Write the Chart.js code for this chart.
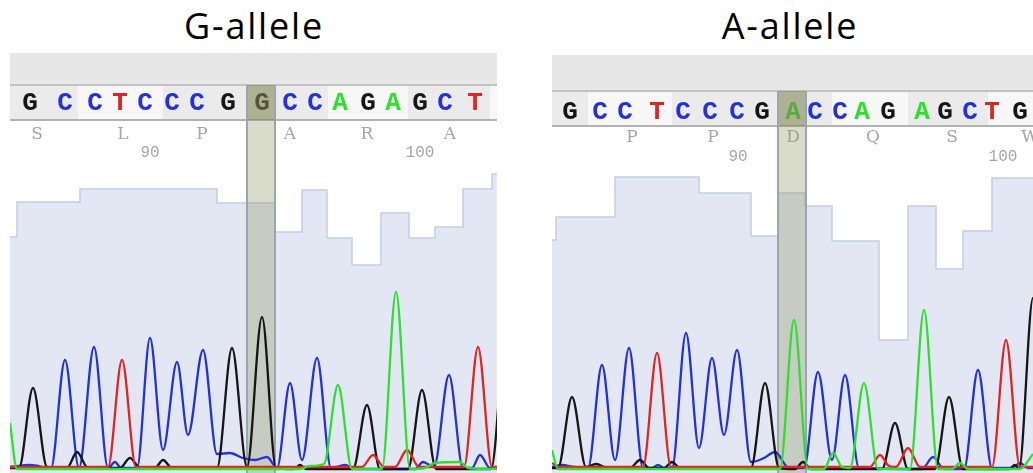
<!DOCTYPE html>
<html>
<head>
<meta charset="utf-8">
<script src="https://cdn.jsdelivr.net/npm/chart.js@4.4.1/dist/chart.umd.min.js"></script>
<style>
  body { margin: 0; background: #fff; width: 1033px; height: 473px; overflow: hidden; position: relative; }
  .title { position: absolute; top: 8px; width: 220px; line-height: 1; text-align: center;
           font-family: "Open Sans", sans-serif; font-size: 36px; letter-spacing: 1.8px; color: #000; }
  canvas { position: absolute; }
</style>
</head>
<body>
<div class="title" style="left:144px">G-allele</div>
<div class="title" style="left:680px">A-allele</div>
<canvas id="gChart" width="487" height="420" style="left:10px;top:53px"></canvas>
<canvas id="aChart" width="481" height="418" style="left:552px;top:55px"></canvas>
<script>
// x values are trace scan positions inside each panel, trace heights are signal intensity,
// quality is the per-base score drawn as the pale step histogram

// ---- G-allele ----
const gBases     = ['G','C','C','T','C','C','C','G','G','C','C','A','G','A','G','C','T'];
const gBasePos   = [20, 55, 85, 110, 135, 162, 187, 218, 252, 280, 305, 330, 358, 383, 410, 435, 465];
const gAmino     = ['S','L','P','A','R','A'];
const gAminoPos  = [27, 113, 192, 280, 357, 440];
const gNumLabels = ['90','100'];
const gNumPos    = [140, 410];
const gQualEdges = [0, 7, 70, 207, 265, 292, 317, 342, 371, 399, 425, 453, 482, 487];
const gQual      = [46.6, 53.6, 56.2, 53.4, 47.6, 56, 46.4, 41, 51.4, 46.4, 48.6, 56.2, 59.2];
const gCodonEdges = [0, 68, 153, 237, 265, 318, 398, 480, 487];
const gHighlight = [237, 265];

const gTraceG = [[0,2],[9,2],[23,82],[37,3],[57,2],[67,18],[78,2],[110,2],[120,12],[130,2],[145,2],[153,10],[162,2],
  [207,2],[222,122],[237,3],[252,153],[266,2],[284,1],[290,5],[296,1],[343,1],[357,65],[370,1],[398,1],[412,80],
  [426,1],[481,1],[495,160]];
const gTraceC = [[0,3],[20,5],[41,2],[55,110],[69,2],[84,123],[98,2],[105,8],[111,2],[127,2],[140,132],[153,20],
  [167,108],[178,35],[193,120],[207,16],[220,17],[233,12],[245,10],[257,13],[267,2],[280,87],[292,10],[307,112],
  [321,2],[335,5],[345,1],[405,1],[413,8],[424,3],[439,95],[453,2],[462,2],[470,15],[480,2],[487,2]];
const gTraceT = [[0,3],[98,3],[112,110],[126,3],[352,3],[363,15],[374,3],[385,3],[397,20],[409,3],[454,3],
  [468,123],[482,3],[487,3]];
const gTraceA = [[0,47],[7,1],[290,1],[300,4],[314,6],[328,85],[342,1],[372,1],[386,178],[400,1],[415,2],[425,7],
  [450,8],[458,2],[487,1]];

// ---- A-allele ----
const aBases     = ['G','C','C','T','C','C','C','G','A','C','C','A','G','A','G','C','T','G','G'];
const aBasePos   = [18, 48, 73, 105, 131, 158, 185, 210, 241, 263, 288, 310, 336, 370, 393, 418, 440, 468, 490];
const aAmino     = ['L','P','P','D','Q','S','W'];
const aAminoPos  = [-7, 80, 161, 241, 321, 400, 478];
const aNumLabels = ['90','100'];
const aNumPos    = [186, 451];
const aQualEdges = [0, 4, 63, 147, 199, 226, 253, 280, 327, 356, 384, 411, 440, 481];
const aQual      = [46, 50.6, 58.6, 55.4, 46.8, 55.4, 52.8, 45.8, 26, 52.8, 40.2, 47.8, 58.4];
const aCodonEdges = [0, 36, 120, 226, 253, 280, 356, 436, 481];
const aHighlight = [226, 254];

const aTraceG = [[0,2],[6,2],[20,73],[34,3],[44,6],[56,2],[78,2],[88,10],[97,2],[112,2],[120,8],[128,2],[199,2],
  [213,87],[227,2],[243,1],[251,8],[259,1],[330,1],[343,47],[356,1],[383,1],[397,73],[411,1],[457,1],[463,5],
  [467,1],[481,172],[495,1]];
const aTraceC = [[0,3],[10,5],[22,3],[36,2],[50,105],[63,10],[77,122],[91,2],[100,2],[106,5],[112,2],[120,2],
  [134,137],[147,22],[160,112],[172,35],[185,120],[199,8],[212,12],[223,18],[237,2],[252,2],[266,98],[280,10],
  [293,95],[307,2],[370,1],[381,13],[392,1],[412,1],[426,100],[440,2],[460,2],[468,7],[476,2],[481,2]];
const aTraceT = [[0,7],[8,3],[91,3],[105,117],[119,3],[318,3],[328,15],[337,4],[344,3],[356,22],[368,3],[440,3],
  [454,130],[468,3],[481,3]];
const aTraceA = [[0,20],[6,1],[228,1],[242,150],[256,1],[272,1],[281,17],[290,3],[298,2],[312,87],[326,1],[358,1],
  [372,160],[386,1],[400,1],[408,7],[416,1],[468,1],[481,16]];

const baseColors = { G: '#161616', C: '#2430e0', T: '#e02424', A: '#2ee02e' };

const toXY = pts => pts.map(p => ({ x: p[0], y: p[1] }));

function qualityPoints(edges, vals) {
    const pts = vals.map((v, i) => ({ x: edges[i], y: v }));
    pts.push({ x: edges[edges.length - 1], y: vals[vals.length - 1] });
    return pts;
}

function traceSet(pts, color) {
    return {
        data: toXY(pts),
        borderColor: color,
        borderWidth: 2.3,
        pointRadius: 0,
        cubicInterpolationMode: 'monotone',
        fill: false,
        yAxisID: 'y',
        order: 0,
    };
}

// header rows (gray band, base calls, translation) and the selected-base column
function headerPlugin(p) {
    return {
        id: 'header',
        beforeDraw(chart) {
            const ctx = chart.ctx, xs = chart.scales.x, w = chart.width;
            ctx.save();
            ctx.fillStyle = '#e7e7e7';
            ctx.fillRect(0, 0, w, p.bandBottom);
            for (let i = 0; i < p.codonEdges.length - 1; i++) {
                const x0 = xs.getPixelForValue(p.codonEdges[i]);
                const x1 = xs.getPixelForValue(p.codonEdges[i + 1]);
                ctx.fillStyle = i % 2 ? '#f7f7f7' : '#ebebeb';
                ctx.fillRect(x0, p.bandBottom, x1 - x0, p.rowBottom - p.bandBottom);
            }
            ctx.fillStyle = '#c2c2c2';
            ctx.fillRect(0, p.bandBottom - 1, w, 2);
            ctx.fillStyle = '#b2b2b2';
            ctx.fillRect(0, p.rowBottom - 1, w, 2);

            ctx.textAlign = 'center';
            ctx.textBaseline = 'middle';
            ctx.font = 'bold 26px "Liberation Mono", monospace';
            p.bases.forEach((b, i) => {
                ctx.fillStyle = baseColors[b];
                ctx.fillText(b, xs.getPixelForValue(p.basePos[i]), p.baseY);
            });
            ctx.fillStyle = '#a6a6a6';
            ctx.font = '17px "DejaVu Serif", serif';
            p.amino.forEach((a, i) => ctx.fillText(a, xs.getPixelForValue(p.aminoPos[i]), p.aminoY));
            ctx.font = '16px "Liberation Mono", monospace';
            p.nums.forEach((n, i) => ctx.fillText(n, xs.getPixelForValue(p.numPos[i]), p.numY));
            ctx.restore();
        },
        afterDatasetDraw(chart, args) {
            if (args.index !== 0) return; // right after the quality histogram
            const ctx = chart.ctx, xs = chart.scales.x;
            const x0 = xs.getPixelForValue(p.highlight[0]);
            const x1 = xs.getPixelForValue(p.highlight[1]);
            ctx.save();
            ctx.fillStyle = 'rgba(125,130,80,0.6)';
            ctx.fillRect(x0, p.bandBottom, x1 - x0, p.rowBottom - p.bandBottom);
            ctx.fillStyle = 'rgba(140,150,95,0.33)';
            ctx.fillRect(x0, p.rowBottom, x1 - x0, chart.height - p.rowBottom);
            ctx.strokeStyle = '#9aa6ad';
            ctx.lineWidth = 2;
            ctx.beginPath();
            ctx.moveTo(x0, p.bandBottom); ctx.lineTo(x0, chart.height);
            ctx.moveTo(x1, p.bandBottom); ctx.lineTo(x1, chart.height);
            ctx.stroke();
            ctx.restore();
        },
    };
}

function makePanel(id, p) {
    new Chart(document.getElementById(id), {
        type: 'line',
        data: {
            datasets: [
                {
                    data: qualityPoints(p.qualEdges, p.qual),
                    stepped: 'before',
                    borderColor: '#c4cce8',
                    borderWidth: 1.5,
                    backgroundColor: '#e3e7f4',
                    fill: 'start',
                    pointRadius: 0,
                    yAxisID: 'yq',
                    order: 10,
                },
                traceSet(p.traces.A, baseColors.A),
                traceSet(p.traces.T, baseColors.T),
                traceSet(p.traces.G, baseColors.G),
                traceSet(p.traces.C, baseColors.C),
            ],
        },
        options: {
            responsive: false,
            animation: false,
            events: [],
            layout: { padding: { top: p.chartTop, bottom: 0, left: 0, right: 0 } },
            scales: {
                x: { type: 'linear', min: 0, max: p.width, display: false },
                y: { min: -3, max: 300, display: false },
                yq: { min: -0.6, max: 60, display: false },
            },
            plugins: {
                legend: { display: false },
                tooltip: { enabled: false },
            },
        },
        plugins: [headerPlugin(p)],
    });
}

makePanel('gChart', {
    width: 487, chartTop: 117,
    bandBottom: 32, rowBottom: 67, baseY: 50, aminoY: 82, numY: 100,
    bases: gBases, basePos: gBasePos, amino: gAmino, aminoPos: gAminoPos,
    nums: gNumLabels, numPos: gNumPos, codonEdges: gCodonEdges, highlight: gHighlight,
    qualEdges: gQualEdges, qual: gQual,
    traces: { G: gTraceG, C: gTraceC, T: gTraceT, A: gTraceA },
});

makePanel('aChart', {
    width: 481, chartTop: 115,
    bandBottom: 36, rowBottom: 71, baseY: 57, aminoY: 83, numY: 102,
    bases: aBases, basePos: aBasePos, amino: aAmino, aminoPos: aAminoPos,
    nums: aNumLabels, numPos: aNumPos, codonEdges: aCodonEdges, highlight: aHighlight,
    qualEdges: aQualEdges, qual: aQual,
    traces: { G: aTraceG, C: aTraceC, T: aTraceT, A: aTraceA },
});
</script>
</body>
</html>
